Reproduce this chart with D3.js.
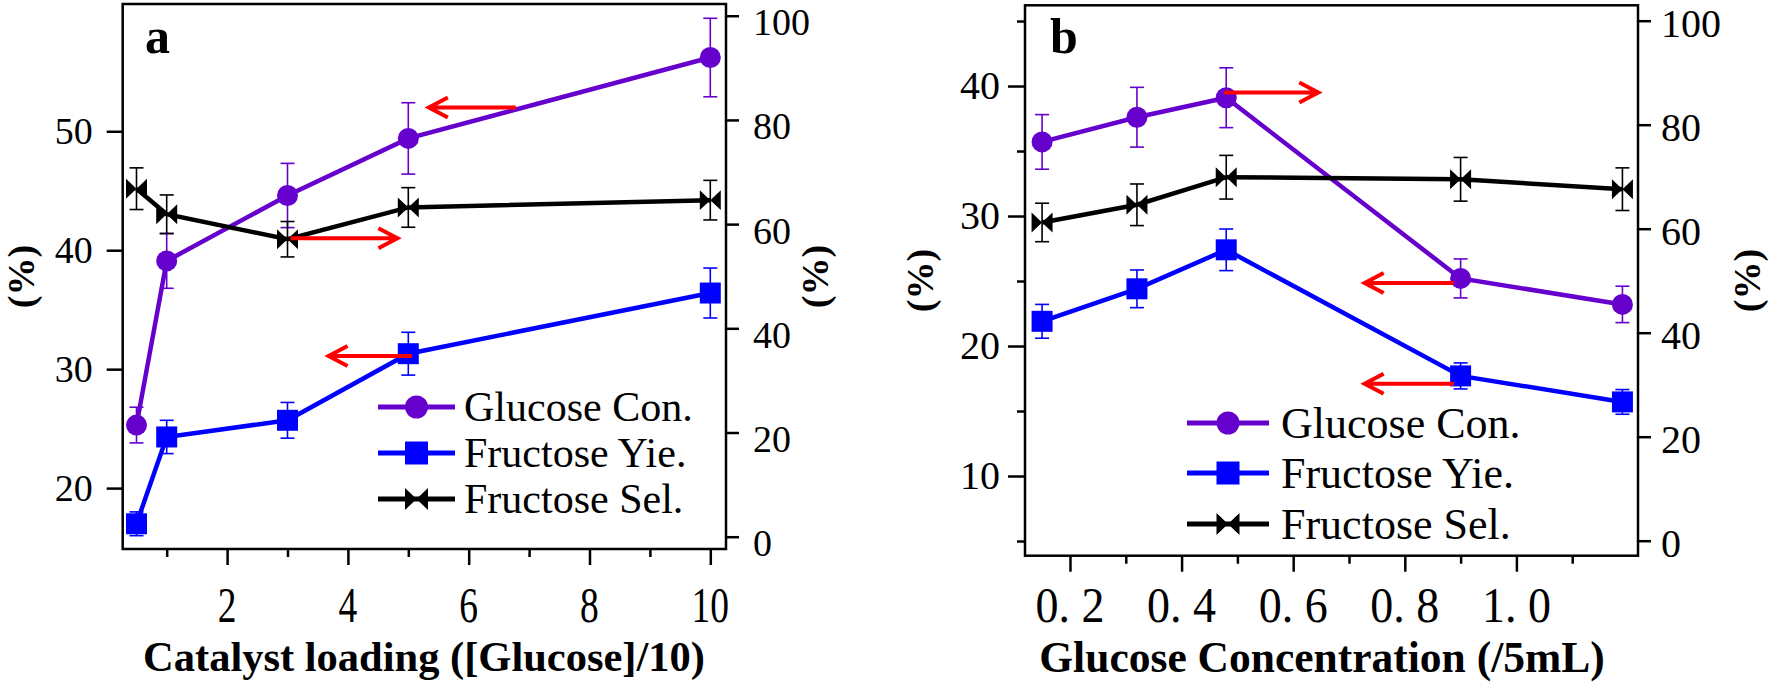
<!DOCTYPE html>
<html><head><meta charset="utf-8">
<script src="https://cdn.jsdelivr.net/npm/d3@7"></script>
<style>
body{margin:0;background:#fff}
svg{display:block}
text{font-family:"Liberation Serif","Times New Roman",serif;fill:#000}
</style>
</head><body>
<svg id="chart" width="1772" height="686" font-family="Liberation Serif"></svg>
<script>
// ---------- Panel a data: Catalyst loading ----------
const loadingX = [0.5, 1, 3, 5, 10];
const loadingGlucoseCon = [25.3, 39.1, 44.6, 49.4, 56.2];
const loadingGlucoseConErr = [1.5, 2.3, 2.7, 3.0, 3.3];
const loadingFructoseYie = [17.0, 24.3, 25.7, 31.3, 36.4];
const loadingFructoseYieErr = [1.0, 1.4, 1.5, 1.8, 2.1];
const loadingFructoseSel = [66.8, 61.9, 57.1, 63.2, 64.6];
const loadingFructoseSelErr = [4.0, 3.7, 3.4, 3.8, 3.8];
const loadingXMajor = [2, 4, 6, 8, 10];
const loadingXMajorLabels = ["2", "4", "6", "8", "10"];
const loadingXMinor = [1, 3, 5, 7, 9];
const loadingYLeftTicks = [20, 30, 40, 50];
const loadingYLeftLabels = ["20", "30", "40", "50"];
const loadingYRightTicks = [0, 20, 40, 60, 80, 100];
const loadingYRightLabels = ["0", "20", "40", "60", "80", "100"];
// arrows: [tailX, headX, y, axis]
const loadingArrows = [[6.78, 5.34, 52.0, "L"], [3.05, 4.82, 57.3, "R"], [5.06, 3.68, 31.1, "L"]];

// ---------- Panel b data: Glucose concentration ----------
const concX = [0.15, 0.32, 0.48, 0.90, 1.19];
const concGlucoseCon = [35.7, 37.6, 39.1, 25.2, 23.2];
const concGlucoseConErr = [2.1, 2.3, 2.3, 1.5, 1.4];
const concFructoseYie = [21.9, 24.4, 27.4, 17.7, 15.7];
const concFructoseYieErr = [1.3, 1.45, 1.6, 1.0, 0.95];
const concFructoseSel = [61.2, 64.6, 69.9, 69.5, 67.6];
const concFructoseSelErr = [3.7, 4.0, 4.2, 4.2, 4.1];
const concXMajor = [0.2, 0.4, 0.6, 0.8, 1.0];
const concXMajorLabels = ["0. 2", "0. 4", "0. 6", "0. 8", "1. 0"];
const concXMinor = [0.3, 0.5, 0.7, 0.9, 1.1];
const concYLeftTicks = [10, 20, 30, 40];
const concYLeftLabels = ["10", "20", "30", "40"];
const concYLeftMinor = [5, 15, 25, 35, 45];
const concYRightTicks = [0, 20, 40, 60, 80, 100];
const concYRightLabels = ["0", "20", "40", "60", "80", "100"];
const concArrows = [[0.476, 0.645, 39.5, "L"], [0.888, 0.728, 24.85, "L"], [0.888, 0.728, 17.1, "L"]];

const seriesNames = ["Glucose Con.", "Fructose Yie.", "Fructose Sel."];
const seriesColors = ["#6600CC", "#0000FF", "#000000"];
const FONT = '"Liberation Serif","Times New Roman",serif';

const svg = d3.select("#chart");

function markerPath(type, s) {
  if (type === 0) return d3.symbol().type(d3.symbolCircle).size(Math.PI * s * s)();
  if (type === 1) return `M${-s},${-s}H${s}V${s}H${-s}Z`;
  return `M${-s},${-s*0.95}L0,0L${-s},${s*0.95}ZM${s},${-s*0.95}L0,0L${s},${s*0.95}Z`;
}

function drawPanel(cfg) {
  const g = svg.append("g").attr("font-family", FONT);
  const x = d3.scaleLinear().domain(cfg.xDomain).range([cfg.left, cfg.right]);
  const yL = d3.scaleLinear().domain(cfg.yLDomain).range([cfg.bottom, cfg.top]);
  const yR = d3.scaleLinear().domain(cfg.yRDomain).range([cfg.bottom, cfg.top]);

  const tidy = sel => {
    sel.attr("font-family", FONT);
    sel.select(".domain").remove();
    sel.selectAll(".tick line").attr("stroke", "#000").attr("stroke-width", 2.5);
    sel.selectAll(".tick text").attr("fill", "#000").attr("font-family", FONT);
  };
  const noText = sel => sel.selectAll(".tick text").remove();

  // x ticks (labels drawn separately, tall & narrow like the original)
  g.append("g").attr("transform", `translate(0,${cfg.bottom})`)
    .call(d3.axisBottom(x).tickValues(cfg.xMajor).tickSize(16).tickFormat("")).call(tidy).call(noText);
  g.append("g").attr("transform", `translate(0,${cfg.bottom})`)
    .call(d3.axisBottom(x).tickValues(cfg.xMinor).tickSize(8).tickFormat("")).call(tidy).call(noText);
  g.selectAll("text.xlab").data(cfg.xMajor).join("text").attr("class", "xlab")
    .attr("x", d => x(d)).attr("y", cfg.xLabelBase)
    .attr("text-anchor", "middle").attr("font-size", cfg.xLabelSize).attr("font-family", FONT)
    .text((d, i) => cfg.xLabels[i])
    .each(function() {
      const w = this.getComputedTextLength();
      d3.select(this).attr("textLength", w * cfg.xLabelSquash).attr("lengthAdjust", "spacingAndGlyphs");
    });

  // left axis
  g.append("g").attr("transform", `translate(${cfg.left},0)`)
    .call(d3.axisLeft(yL).tickValues(cfg.yLTicks).tickSize(cfg.yLTickSize).tickPadding(cfg.yLPad)
      .tickFormat((d, i) => cfg.yLLabels[i])).call(tidy)
    .selectAll(".tick text").attr("font-size", cfg.yLabelSize);
  if (cfg.yLMinor) {
    g.append("g").attr("transform", `translate(${cfg.left},0)`)
      .call(d3.axisLeft(yL).tickValues(cfg.yLMinor).tickSize(8).tickFormat("")).call(tidy).call(noText);
  }
  // right axis
  g.append("g").attr("transform", `translate(${cfg.right},0)`)
    .call(d3.axisRight(yR).tickValues(cfg.yRTicks).tickSize(13).tickPadding(cfg.yRPad)
      .tickFormat((d, i) => cfg.yRLabels[i])).call(tidy)
    .selectAll(".tick text").attr("font-size", cfg.yLabelSize).attr("dy", cfg.yRdy);

  // frame
  g.append("rect").attr("x", cfg.left).attr("y", cfg.top)
    .attr("width", cfg.right - cfg.left).attr("height", cfg.bottom - cfg.top)
    .attr("fill", "none").attr("stroke", "#000").attr("stroke-width", 2.5);

  // series
  const series = [
    {vals: cfg.s1, err: cfg.e1, y: yL},
    {vals: cfg.s2, err: cfg.e2, y: yL},
    {vals: cfg.s3, err: cfg.e3, y: yR}
  ];
  series.forEach((s, k) => {
    const pts = cfg.xs.map((xv, i) => [xv, s.vals[i], s.err[i]]);
    const col = seriesColors[k];
    g.append("path").datum(pts)
      .attr("d", d3.line().x(d => x(d[0])).y(d => s.y(d[1])))
      .attr("fill", "none").attr("stroke", col).attr("stroke-width", 4.5);
    const eb = g.append("g").attr("stroke", col).attr("stroke-width", 1.6);
    pts.forEach(p => {
      const cx = x(p[0]), y1 = s.y(p[1] + p[2]), y2 = s.y(p[1] - p[2]);
      eb.append("line").attr("x1", cx).attr("x2", cx).attr("y1", y1).attr("y2", y2);
      eb.append("line").attr("x1", cx - 7).attr("x2", cx + 7).attr("y1", y1).attr("y2", y1);
      eb.append("line").attr("x1", cx - 7).attr("x2", cx + 7).attr("y1", y2).attr("y2", y2);
    });
    g.selectAll(null).data(pts).join("path")
      .attr("transform", d => `translate(${x(d[0])},${s.y(d[1])})`)
      .attr("d", markerPath(k, 10.5)).attr("fill", col);
  });

  // red arrows
  cfg.arrows.forEach(a => {
    const yy = a[3] === "L" ? yL(a[2]) : yR(a[2]);
    const xt = x(a[0]), xh = x(a[1]);
    const dir = Math.sign(xt - xh);
    g.append("path")
      .attr("d", `M${xt},${yy}H${xh}M${xh + dir * 19},${yy - 10}L${xh},${yy}L${xh + dir * 19},${yy + 10}`)
      .attr("fill", "none").attr("stroke", "#FF0000").attr("stroke-width", 4)
      .attr("stroke-linejoin", "miter");
  });

  // legend
  const lg = cfg.legend;
  seriesNames.forEach((name, k) => {
    const yy = lg.rows[k];
    g.append("line").attr("x1", lg.x1).attr("x2", lg.x2).attr("y1", yy).attr("y2", yy)
      .attr("stroke", seriesColors[k]).attr("stroke-width", 5);
    g.append("path").attr("transform", `translate(${(lg.x1 + lg.x2) / 2},${yy})`)
      .attr("d", markerPath(k, 11.5)).attr("fill", seriesColors[k]);
    g.append("text").attr("x", lg.tx).attr("y", yy + lg.size * 0.33)
      .attr("font-size", lg.size).attr("font-family", FONT).text(name);
  });

  // panel letter
  g.append("text").attr("x", cfg.letterX).attr("y", cfg.letterY).attr("font-size", 50)
    .attr("font-weight", "bold").attr("font-family", FONT).text(cfg.letter);

  // axis titles
  g.append("text").attr("x", cfg.xTitleX).attr("y", cfg.xTitleY)
    .attr("text-anchor", "middle").attr("font-size", cfg.xTitleSize).attr("font-weight", "bold")
    .attr("font-family", FONT).text(cfg.xTitle);
  [cfg.yTitleLX, cfg.yTitleRX].forEach(tx => {
    g.append("text").attr("transform", `translate(${tx},${(cfg.top + cfg.bottom) / 2}) rotate(-90)`)
      .attr("text-anchor", "middle").attr("dy", "0.35em").attr("font-size", 38)
      .attr("font-weight", "bold").attr("font-family", FONT).text("(%)");
  });
}

drawPanel({
  left: 122.7, right: 726, top: 4, bottom: 549,
  xDomain: [0.2715, 10.26], yLDomain: [14.88, 60.70], yRDomain: [-2.36, 102.25],
  xMajor: loadingXMajor, xLabels: loadingXMajorLabels, xMinor: loadingXMinor,
  xLabelBase: 622, xLabelSize: 50, xLabelSquash: 0.75,
  yLTicks: loadingYLeftTicks, yLLabels: loadingYLeftLabels, yLTickSize: 16, yLPad: 14,
  yRTicks: loadingYRightTicks, yRLabels: loadingYRightLabels, yRPad: 14, yRdy: "0.5em",
  yLabelSize: 38,
  xs: loadingX, s1: loadingGlucoseCon, e1: loadingGlucoseConErr,
  s2: loadingFructoseYie, e2: loadingFructoseYieErr, s3: loadingFructoseSel, e3: loadingFructoseSelErr,
  arrows: loadingArrows,
  legend: {x1: 378, x2: 455, tx: 464, rows: [407, 453, 499], size: 42},
  letter: "a", letterX: 145, letterY: 53,
  xTitle: "Catalyst loading ([Glucose]/10)", xTitleX: 424, xTitleY: 671, xTitleSize: 42.5,
  yTitleLX: 21, yTitleRX: 815
});

drawPanel({
  left: 1025, right: 1638, top: 5.3, bottom: 555.7,
  xDomain: [0.1194, 1.2179], yLDomain: [3.869, 46.21], yRDomain: [-2.885, 102.96],
  xMajor: concXMajor, xLabels: concXMajorLabels, xMinor: concXMinor,
  xLabelBase: 622, xLabelSize: 50, xLabelSquash: 0.92,
  yLTicks: concYLeftTicks, yLLabels: concYLeftLabels, yLTickSize: 17, yLPad: 8, yLMinor: concYLeftMinor,
  yRTicks: concYRightTicks, yRLabels: concYRightLabels, yRPad: 10, yRdy: "0.4em",
  yLabelSize: 40,
  xs: concX, s1: concGlucoseCon, e1: concGlucoseConErr,
  s2: concFructoseYie, e2: concFructoseYieErr, s3: concFructoseSel, e3: concFructoseSelErr,
  arrows: concArrows,
  legend: {x1: 1187, x2: 1269, tx: 1281, rows: [423, 473, 524], size: 44},
  letter: "b", letterX: 1050, letterY: 52.7,
  xTitle: "Glucose Concentration (/5mL)", xTitleX: 1322, xTitleY: 672, xTitleSize: 43.5,
  yTitleLX: 920, yTitleRX: 1747
});
</script>
</body></html>
